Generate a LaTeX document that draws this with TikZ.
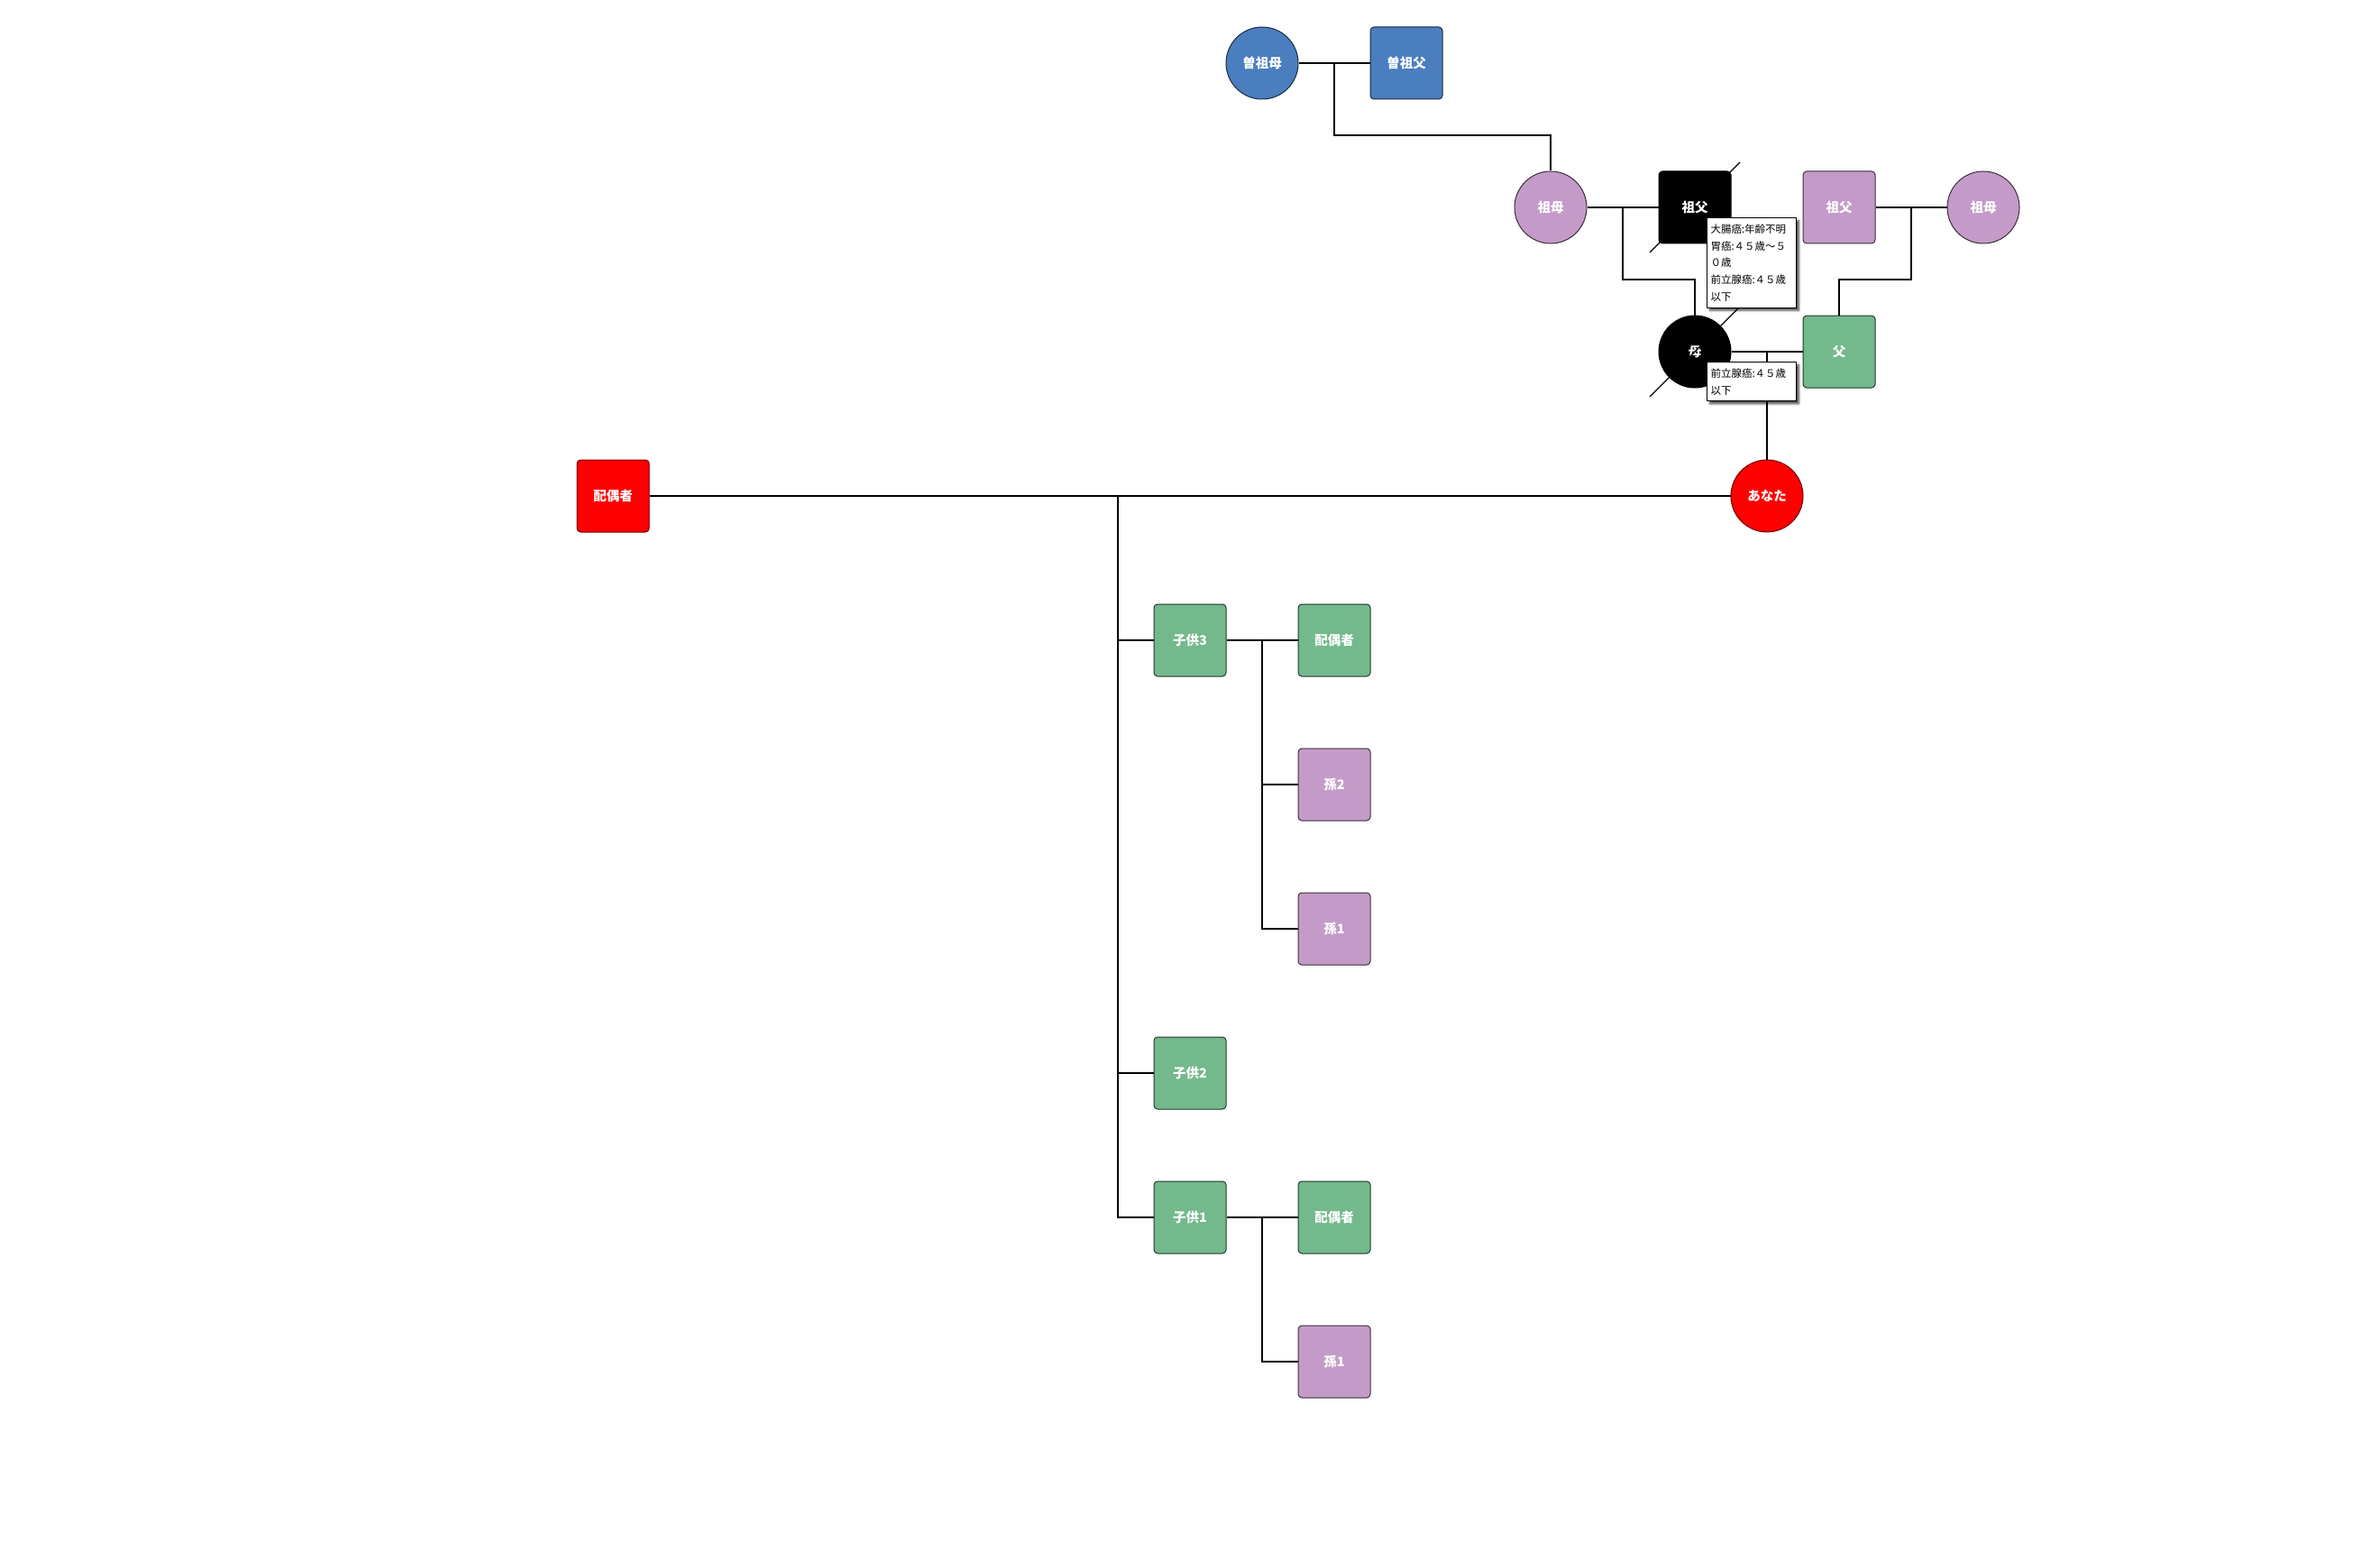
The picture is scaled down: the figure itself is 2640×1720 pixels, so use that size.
\documentclass[tikz,border=0pt]{standalone}
\usepackage{fontspec}
\setmainfont{Noto Sans CJK JP}
\usetikzlibrary{calc,shadows.blur}
\definecolor{kinblue}{HTML}{4A7EBF}
\definecolor{kinpink}{HTML}{C49BC8}
\definecolor{kingreen}{HTML}{73B98B}
\definecolor{kinred}{HTML}{FF0000}
\begin{document}
\begin{tikzpicture}[x=1pt,y=-1pt,
  person/.style={minimum size=80pt, inner sep=0pt, line width=1pt, text=white,
    font=\fontsize{14.5}{16}\selectfont\bfseries},
  male/.style={person, rectangle, rounded corners=4pt},
  female/.style={person, circle},
  blue/.style={fill=kinblue, draw=kinblue!35!black},
  pink/.style={fill=kinpink, draw=kinpink!30!black},
  green/.style={fill=kingreen, draw=kingreen!30!black},
  red/.style={fill=kinred, draw=kinred!45!black},
  dead/.style={fill=black, draw=black},
  link/.style={line width=1.1pt, draw=black},
  note/.style={draw=black, line width=1pt, fill=white, anchor=north west, align=left,
    inner xsep=4pt, inner ysep=7pt, text width=91pt,
    font=\fontsize{11.5}{18.8}\selectfont,
    blur shadow={shadow xshift=3pt, shadow yshift=-3pt, shadow blur steps=6, shadow opacity=70}}
]
\useasboundingbox (0,0) rectangle (2640,1720);

% deceased mark behind the paternal-side grandfather
\coordinate (gfLc) at (1880,230);
\draw[link] ($(gfLc)+(-50,50)$) -- ($(gfLc)+(50,-50)$);

% great-grandparents
\node[female, blue] (ggm) at (1400,70) {曽祖母};
\node[male, blue] (ggf) at (1560,70) {曽祖父};

% grandparents
\node[female, pink] (gmL) at (1720,230) {祖母};
\node[male, dead] (gfL) at (gfLc) {祖父};
\node[male, pink] (gfR) at (2040,230) {祖父};
\node[female, pink] (gmR) at (2200,230) {祖母};

% parents
\node[female, dead] (mo) at (1880,390) {母};
\node[male, green] (fa) at (2040,390) {父};

% self and spouse
\node[female, red] (me) at (1960,550) {あなた};
\node[male, red] (sp) at (680,550) {配偶者};

% children
\node[male, green] (c3) at (1320,710) {子供3};
\node[male, green] (c3s) at (1480,710) {配偶者};
\node[male, pink] (g2) at (1480,870) {孫2};
\node[male, pink] (g1a) at (1480,1030) {孫1};
\node[male, green] (c2) at (1320,1190) {子供2};
\node[male, green] (c1) at (1320,1350) {子供1};
\node[male, green] (c1s) at (1480,1350) {配偶者};
\node[male, pink] (g1b) at (1480,1510) {孫1};

% junction points on the couple lines
\coordinate (jgg) at (1480,70);
\coordinate (jpL) at (1800,230);
\coordinate (jpR) at (2120,230);
\coordinate (jp) at (1960,390);
\coordinate (jme) at (1240,550);
\coordinate (jc3) at (1400,710);
\coordinate (jc1) at (1400,1350);

% couples
\draw[link] (ggm.east) -- (ggf.west);
\draw[link] (gmL.east) -- (gfL.west);
\draw[link] (gfR.east) -- (gmR.west);
\draw[link] (mo.east) -- (fa.west);
\draw[link] (sp.east) -- (me.west);
\draw[link] (c3.east) -- (c3s.west);
\draw[link] (c1.east) -- (c1s.west);
% descent lines
\draw[link] (jgg) -- (1480,150) -| (gmL.north);
\draw[link] (jpL) -- (1800,310) -| (mo.north);
\draw[link] (jpR) -- (2120,310) -| (fa.north);
\draw[link] (jp) -- (me.north);
\draw[link] (jme) |- (c3.west);
\draw[link] (jme) |- (c2.west);
\draw[link] (jme) |- (c1.west);
\draw[link] (jc3) |- (g2.west);
\draw[link] (jc3) |- (g1a.west);
\draw[link] (jc1) |- (g1b.west);

% deceased mark across the mother
\draw[link] ($(mo.center)+(-50,50)$) -- ($(mo.center)+(50,-50)$);

% medical history notes
\node[note] (n1) at (1893,241) {大腸癌:年齢不明\\胃癌:４５歳～５\\０歳\\前立腺癌:４５歳\\以下};
\node[note] (n2) at (1893,401) {前立腺癌:４５歳\\以下};
\end{tikzpicture}
\end{document}
